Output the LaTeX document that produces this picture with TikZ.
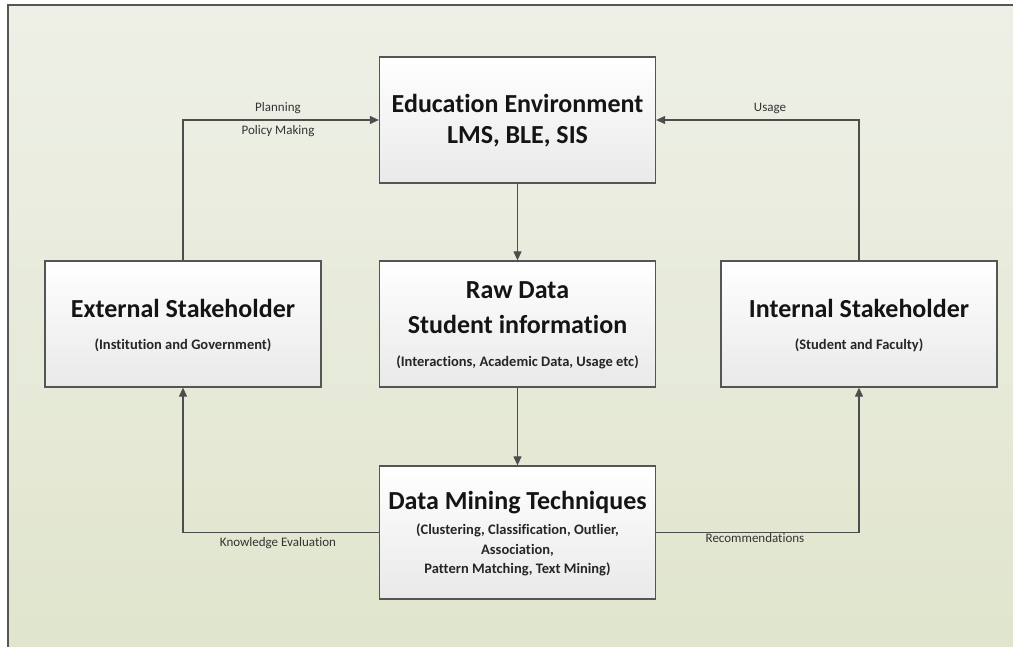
\documentclass[tikz,border=0pt]{standalone}
\usepackage{fontspec}
\setmainfont{Carlito}[Ligatures=NoCommon]
\usetikzlibrary{arrows.meta}

\definecolor{bgtop}{HTML}{EEF0E7}
\definecolor{bgbot}{HTML}{E0E5CD}
\definecolor{edgegray}{HTML}{555555}
\definecolor{wiregray}{HTML}{4D4D4D}
\definecolor{boxbot}{HTML}{E9E9E9}

\begin{document}
\begin{tikzpicture}[x=1pt,y=-1pt,
  box/.style={draw=edgegray, line width=1.3pt, top color=white, bottom color=boxbot,
              minimum width=276pt, minimum height=126pt, inner sep=0pt},
  titletext/.style={font=\bfseries\fontsize{26}{30}\selectfont, text=black!92, inner sep=0pt},
  subtext/.style={font=\bfseries\fontsize{14.5}{18}\selectfont, text=black!85, inner sep=0pt},
  lbl/.style={font=\fontsize{13}{15}\selectfont, text=black!80, inner sep=0pt},
  wire/.style={draw=wiregray, line width=1.2pt, -{Triangle[length=9pt,width=8pt]}}]

\useasboundingbox (0,0) rectangle (1013,647);

% page background and frame
\fill[white] (0,0) rectangle (1013,647);
\shade[top color=bgtop, bottom color=bgbot] (8,5) rectangle (1013,647);
\draw[edgegray, line width=1.3pt] (8,647) -- (8,5) -- (1013,5);

% boxes
\node[box] (edu) at (517.5,120) {};
\node[box] (ext) at (183,324) {};
\node[box] (raw) at (517.5,324) {};
\node[box] (int) at (859,324) {};
\node[box, minimum height=133pt] (dm) at (517.5,532.5) {};

% box texts
\node[titletext] (edu1) at (517.5,103) {Education Environment};
\node[titletext] (edu2) at (517.5,137) {LMS, BLE, SIS};

\node[titletext] (ext1) at (183,308) {External Stakeholder};
\node[subtext]   (ext2) at (183,345) {(Institution and Government)};

\node[titletext] (raw1) at (517.5,290) {Raw Data};
\node[titletext] (raw2) at (517.5,324) {Student information};
\node[subtext]   (raw3) at (517.5,362) {(Interactions, Academic Data, Usage etc)};

\node[titletext] (int1) at (859,308) {Internal Stakeholder};
\node[subtext]   (int2) at (859,345) {(Student and Faculty)};

\node[titletext] (dm1) at (517.5,503) {Data Mining Techniques};
\node[subtext]   (dm2) at (517.5,530) {(Clustering, Classification, Outlier,};
\node[subtext]   (dm3) at (517.5,550) {Association,};
\node[subtext]   (dm4) at (517.5,569) {Pattern Matching, Text Mining)};

% connectors
\draw[wire] (edu.south) -- (raw.north);
\draw[wire] (raw.south) -- (dm.north);
\draw[wire] (ext.north) |- (edu.west);
\draw[wire] (int.north) |- (edu.east);
\draw[wire] (dm.west) -| (ext.south);
\draw[wire] (dm.east) -| (int.south);

% connector labels
\node[lbl] (plan)  at (278,108) {Planning};
\node[lbl] (policy) at (278,131) {Policy Making};
\node[lbl] (usage) at (770,108) {Usage};
\node[lbl] (know)  at (278,543) {Knowledge Evaluation};
\node[lbl] (recom) at (755,538) {Recommendations};
\end{tikzpicture}
\end{document}
